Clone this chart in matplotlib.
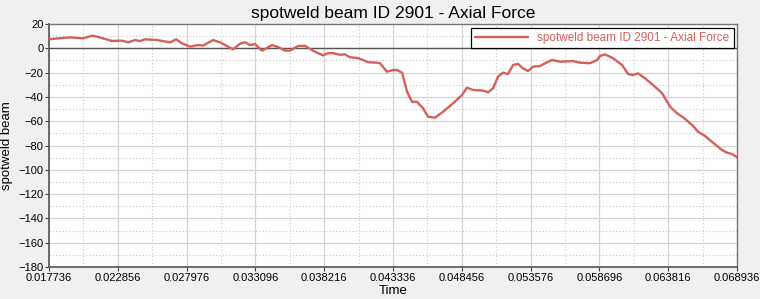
import numpy as np
import matplotlib.pyplot as plt
from matplotlib.ticker import FixedLocator

plt.rcParams['font.family'] = ['Liberation Sans', 'DejaVu Sans']

# Data
time = [0.01774, 0.01841, 0.01930, 0.02027, 0.02094, 0.02131, 0.02242, 0.02317,
        0.02362, 0.02414, 0.02451, 0.02488, 0.02577, 0.02674, 0.02719, 0.02763,
        0.02823, 0.02882, 0.02920, 0.02994, 0.03046, 0.03143, 0.03195, 0.03232,
        0.03269, 0.03307, 0.03359, 0.03433, 0.03478, 0.03530, 0.03567, 0.03627,
        0.03679, 0.03738, 0.03813, 0.03850, 0.03887, 0.03939, 0.03976, 0.04014,
        0.04066, 0.04110, 0.04148, 0.04215, 0.04237, 0.04289, 0.04334, 0.04363,
        0.04401, 0.04438, 0.04475, 0.04512, 0.04557, 0.04594, 0.04646, 0.04706,
        0.04780, 0.04847, 0.04884, 0.04929, 0.05003, 0.05041, 0.05078, 0.05115,
        0.05152, 0.05189, 0.05227, 0.05264, 0.05301, 0.05338, 0.05376, 0.05428,
        0.05465, 0.05517, 0.05576, 0.05673, 0.05725, 0.05800, 0.05852, 0.05874,
        0.05911, 0.05971, 0.06038, 0.06083, 0.06120, 0.06157, 0.06209, 0.06283,
        0.06336, 0.06395, 0.06447, 0.06492, 0.06559, 0.06603, 0.06656, 0.06715,
        0.06782, 0.06819, 0.06856, 0.06894]
force = [7.4, 8.2, 9.0, 8.2, 10.4, 9.6, 6.0, 6.3,
         4.9, 6.8, 6.0, 7.4, 6.8, 4.9, 7.4, 4.1,
         1.4, 2.7, 2.2, 6.8, 4.9, -0.8, 3.8, 5.0,
         2.7, 3.5, -2.0, 2.7, 1.0, -1.9, -1.9, 1.9,
         2.0, -2.0, -5.8, -4.0, -4.0, -5.3, -5.0, -7.4,
         -7.9, -9.6, -11.5, -11.8, -12.3, -19.2, -17.9, -17.9,
         -20.0, -35.7, -44.0, -44.0, -49.4, -56.3, -57.1, -52.2,
         -45.3, -38.4, -32.4, -34.3, -34.8, -36.2, -32.9, -23.3,
         -20.0, -21.2, -13.7, -12.9, -16.5, -18.7, -15.1, -14.6,
         -12.3, -9.6, -11.0, -10.5, -11.8, -12.3, -9.6, -6.3,
         -5.0, -8.2, -13.7, -21.2, -22.0, -20.6, -24.7, -31.6,
         -37.0, -48.0, -53.5, -56.8, -63.1, -68.6, -72.2, -77.7,
         -83.7, -85.9, -87.0, -89.7]

x_ticks = [0.017736, 0.022856, 0.027976, 0.033096, 0.038216, 0.043336,
           0.048456, 0.053576, 0.058696, 0.063816, 0.068936]
x_tick_labels = ['0.017736', '0.022856', '0.027976', '0.033096', '0.038216', '0.043336',
                 '0.048456', '0.053576', '0.058696', '0.063816', '0.068936']
y_ticks = [20, 0, -20, -40, -60, -80, -100, -120, -140, -160, -180]

title = 'spotweld beam ID 2901 - Axial Force'
line_color = '#d4605a'

fig = plt.figure(figsize=(7.6, 2.99), dpi=100, facecolor='#f0f0f0')
ax = fig.add_axes([0.0645, 0.107, 0.9053, 0.8127])
ax.set_facecolor('white')

ax.plot(time, force, color=line_color, lw=1.7, label=title, zorder=3,
        solid_joinstyle='round', solid_capstyle='round')
ax.axhline(0, color='#555555', lw=1.0, zorder=2)

ax.set_xlim(x_ticks[0], x_ticks[-1])
ax.set_ylim(-180, 20)
ax.set_xticks(x_ticks)
ax.set_xticklabels(x_tick_labels)
ax.set_yticks(y_ticks)

x_minor = [(a + b) / 2 for a, b in zip(x_ticks[:-1], x_ticks[1:])]
y_minor = [v - 10 for v in y_ticks[:-1]]
ax.xaxis.set_minor_locator(FixedLocator(x_minor))
ax.yaxis.set_minor_locator(FixedLocator(y_minor))

ax.grid(True, which='major', color='#d4d4d4', lw=0.9, zorder=0)
ax.grid(True, which='minor', color='#c8c8c8', lw=0.8, ls=(0, (1, 2)), zorder=0)

ax.tick_params(axis='both', which='major', labelsize=8, length=3, width=0.8,
               color='#444444', pad=1)
ax.tick_params(axis='both', which='minor', length=0)

for side in ['left', 'bottom']:
    ax.spines[side].set_color('#555555')
    ax.spines[side].set_linewidth(1.2)
for side in ['top', 'right']:
    ax.spines[side].set_color('#777777')
    ax.spines[side].set_linewidth(1.0)

ax.set_title(title, fontsize=12.5, pad=4)
ax.set_xlabel('Time', fontsize=9.5)
ax.xaxis.set_label_coords(0.5, -0.075)
ax.set_ylabel('spotweld beam', fontsize=9.5)
ax.yaxis.set_label_coords(-0.052, 0.5)

leg = ax.legend(loc='upper right', fontsize=8.5, frameon=True, fancybox=False,
                handlelength=4.5, borderaxespad=0.3, borderpad=0.35,
                labelcolor=line_color)
leg.get_frame().set_edgecolor('black')
leg.get_frame().set_linewidth(0.9)
leg.get_frame().set_alpha(1)

fig.savefig('out.png', dpi=100, facecolor=fig.get_facecolor())
